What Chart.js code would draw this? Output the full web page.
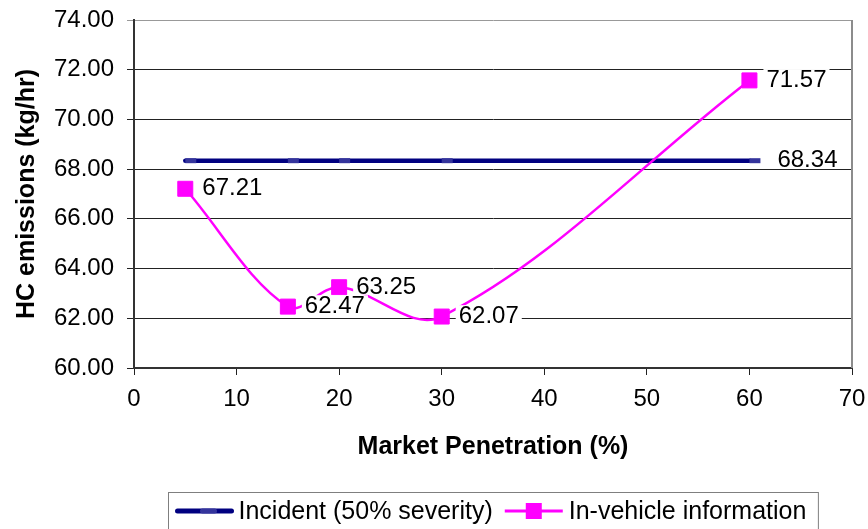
<!DOCTYPE html>
<html>
<head>
<meta charset="utf-8">
<script src="https://cdn.jsdelivr.net/npm/chart.js@4.4.1/dist/chart.umd.min.js"></script>
<style>
  html, body { margin: 0; padding: 0; background: #fff; }
  #wrap { width: 868px; height: 529px; position: relative; }
</style>
</head>
<body>
<div id="wrap"><canvas id="hcChart"></canvas></div>
<script>
// chart data
const penetration = [5, 15, 20, 30, 60];
const incidentHC = [68.34, 68.34, 68.34, 68.34, 68.34];
const inVehicleHC = [67.21, 62.47, 63.25, 62.07, 71.57];
const seriesNames = ['Incident (50% severity)', 'In-vehicle information'];
const xTicks = [0, 10, 20, 30, 40, 50, 60, 70];
const yTicks = [60, 62, 64, 66, 68, 70, 72, 74];

const FONT = "'Liberation Sans', Arial, sans-serif";
const NAVY = '#000080';
const NAVY_MARK = '#34349c';
const PINK = '#ff00ff';

// which points get a value label, and how far right of the point it sits
const labelGap = [28, 17];
const labelLastOnly = [true, false];

const valueLabels = {
    id: 'valueLabels',
    afterDatasetsDraw(chart) {
        const ctx = chart.ctx;
        ctx.save();
        ctx.font = '24px ' + FONT;
        ctx.textBaseline = 'middle';
        ctx.textAlign = 'left';
        chart.data.datasets.forEach((ds, i) => {
            const pts = chart.getDatasetMeta(i).data;
            pts.forEach((pt, j) => {
                if (labelLastOnly[i] && j !== pts.length - 1) return;
                const text = ds.data[j].y.toFixed(2);
                const x = pt.x + labelGap[i];
                const y = pt.y;
                const m = ctx.measureText(text);
                const up = m.actualBoundingBoxAscent, down = m.actualBoundingBoxDescent;
                ctx.fillStyle = '#fff';
                ctx.fillRect(x - 3, y - up - 1, m.width + 6, up + down + 2);
                ctx.fillStyle = '#000';
                ctx.fillText(text, x, y);
            });
        });
        ctx.restore();
    }
};

// gray frame on the right side of the plot
const plotFrame = {
    id: 'plotFrame',
    beforeDatasetsDraw(chart) {
        const { ctx, chartArea } = chart;
        ctx.save();
        ctx.strokeStyle = '#8c8c8c';
        ctx.lineWidth = 2;
        ctx.beginPath();
        ctx.moveTo(chartArea.right, chartArea.top);
        ctx.lineTo(chartArea.right, chartArea.bottom);
        ctx.stroke();
        ctx.restore();
    }
};

// boxed legend under the axis title, line + marker samples like the original
const boxLegend = {
    id: 'boxLegend',
    afterDraw(chart) {
        const ctx = chart.ctx;
        ctx.save();
        ctx.font = '25px ' + FONT;
        ctx.textBaseline = 'middle';
        const w1 = ctx.measureText(seriesNames[0]).width;
        const w2 = ctx.measureText(seriesNames[1]).width;
        const sample = 58;
        const boxW = 7 + sample + 5 + w1 + 12 + sample + 6 + w2 + 12;
        const left = Math.round(493 - boxW / 2) + 0.5;
        const top = 492.5;
        const cy = 511;

        ctx.strokeStyle = '#7f7f7f';
        ctx.lineWidth = 1;
        ctx.strokeRect(left, top, boxW, 40);

        // incident sample
        let x = left + 7;
        ctx.lineCap = 'round';
        ctx.strokeStyle = NAVY;
        ctx.lineWidth = 5;
        ctx.beginPath();
        ctx.moveTo(x + 2, cy); ctx.lineTo(x + sample - 2, cy);
        ctx.stroke();
        ctx.strokeStyle = NAVY_MARK;
        ctx.beginPath();
        ctx.moveTo(x + sample / 2 - 2, cy); ctx.lineTo(x + sample / 2 + 10, cy);
        ctx.stroke();
        x += sample + 5;
        ctx.fillStyle = '#000';
        ctx.fillText(seriesNames[0], x, cy + 1);
        x += w1 + 12;

        // in-vehicle sample
        ctx.lineCap = 'butt';
        ctx.strokeStyle = PINK;
        ctx.lineWidth = 3;
        ctx.beginPath();
        ctx.moveTo(x, cy); ctx.lineTo(x + sample, cy);
        ctx.stroke();
        ctx.fillStyle = PINK;
        ctx.fillRect(x + sample / 2 - 8, cy - 8, 16, 16);
        x += sample + 6;
        ctx.fillStyle = '#000';
        ctx.fillText(seriesNames[1], x, cy + 1);
        ctx.restore();
    }
};

const ctx = document.getElementById('hcChart').getContext('2d');
new Chart(ctx, {
    type: 'line',
    data: {
        datasets: [
            {
                label: seriesNames[0],
                data: penetration.map((x, i) => ({ x: x, y: incidentHC[i] })),
                borderColor: NAVY,
                borderWidth: 4.5,
                borderCapStyle: 'round',
                pointStyle: 'dash',
                pointRadius: 11,
                pointHoverRadius: 11,
                pointBorderWidth: 5,
                pointBorderColor: NAVY_MARK,
                pointBackgroundColor: NAVY_MARK,
                tension: 0,
                order: 1
            },
            {
                label: seriesNames[1],
                data: penetration.map((x, i) => ({ x: x, y: inVehicleHC[i] })),
                borderColor: PINK,
                borderWidth: 2.5,
                pointStyle: 'rect',
                pointRadius: 10.6,
                pointHoverRadius: 10.6,
                pointBorderWidth: 1,
                pointBorderColor: PINK,
                pointBackgroundColor: PINK,
                tension: 0.35,
                order: 0
            }
        ]
    },
    options: {
        responsive: true,
        maintainAspectRatio: false,
        animation: false,
        events: [],
        layout: { padding: { top: 20, right: 16, bottom: 67, left: 0 } },
        plugins: {
            legend: { display: false },
            tooltip: { enabled: false }
        },
        scales: {
            x: {
                type: 'linear',
                min: 0,
                max: 70,
                afterBuildTicks: s => { s.ticks = xTicks.map(v => ({ value: v })); },
                afterFit: s => {
                    s.height = 94;
                    s.paddingLeft = 0;
                    s.paddingRight = 0;
                },
                border: { color: '#333', width: 2 },
                grid: { drawOnChartArea: false, color: '#222', tickLength: 7 },
                ticks: { font: { family: FONT, size: 24 }, color: '#000', padding: 10, maxRotation: 0 },
                title: {
                    display: true,
                    text: 'Market Penetration (%)',
                    font: { family: FONT, size: 25, weight: 'bold' },
                    color: '#000',
                    padding: { top: 0, bottom: 0 }
                }
            },
            y: {
                min: 60,
                max: 74,
                afterBuildTicks: s => { s.ticks = yTicks.map(v => ({ value: v })); },
                afterFit: s => {
                    s.width = 134;
                    s.paddingTop = 0;
                    s.paddingBottom = 0;
                },
                border: { color: '#333', width: 2 },
                grid: {
                    color: c => (c.tick && c.tick.value === 74 ? '#999' : '#222'),
                    tickLength: 7
                },
                ticks: {
                    font: { family: FONT, size: 24 },
                    color: '#000',
                    padding: 13,
                    callback: v => Number(v).toFixed(2)
                },
                title: {
                    display: true,
                    text: 'HC emissions (kg/hr)',
                    font: { family: FONT, size: 25, weight: 'bold' },
                    color: '#000',
                    padding: { top: 12, bottom: 0 }
                }
            }
        }
    },
    plugins: [plotFrame, valueLabels, boxLegend]
});
</script>
</body>
</html>
